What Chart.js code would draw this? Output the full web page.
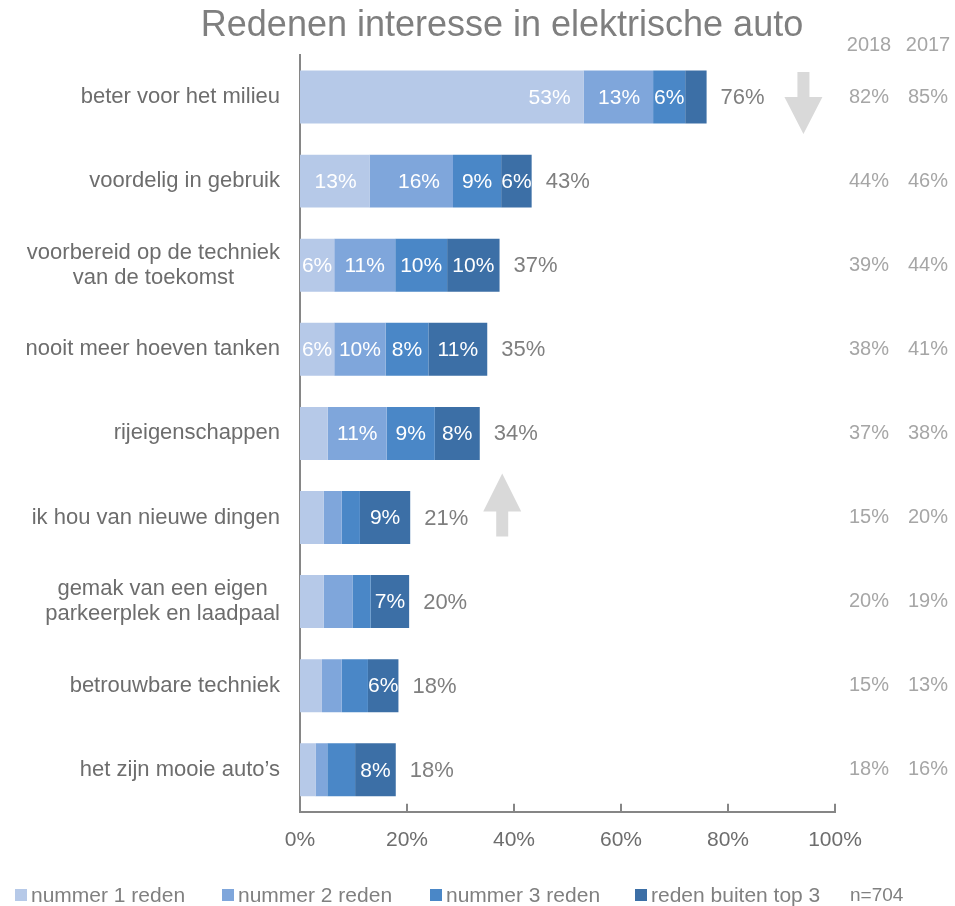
<!DOCTYPE html>
<html lang="nl">
<head>
  <meta charset="UTF-8">
  <title>Redenen interesse in elektrische auto</title>
  <script src="https://cdn.jsdelivr.net/npm/chart.js"></script>
  <style>
    body {
      margin: 0;
      background: #fff;
      font-family: "Liberation Sans", Arial, sans-serif;
    }
    .wrap {
      width: 955px;
      height: 906px;
      position: relative;
    }
  </style>
</head>
<body>
  <div class="wrap">
    <canvas id="redenenChart"></canvas>
  </div>

  <script>
    // data (percentages)
    const categories = [
      ['beter voor het milieu'],
      ['voordelig in gebruik'],
      ['voorbereid op de techniek', 'van de toekomst'],
      ['nooit meer hoeven tanken'],
      ['rijeigenschappen'],
      ['ik hou van nieuwe dingen'],
      ['gemak van een eigen', 'parkeerplek en laadpaal'],
      ['betrouwbare techniek'],
      ['het zijn mooie auto\u2019s']
    ];
    const seriesNames = ['nummer 1 reden', 'nummer 2 reden', 'nummer 3 reden', 'reden buiten top 3'];
    const nummer1 = [53, 13, 6.4, 6.4, 5.2, 4.4, 4.4, 4.1, 2.9];
    const nummer2 = [13, 15.6, 11.4, 9.6, 11, 3.4, 5.4, 3.7, 2.2];
    const nummer3 = [6, 9, 9.7, 8, 9, 3.4, 3.4, 4.9, 5.2];
    const buitenTop3 = [4, 5.7, 9.8, 11, 8.4, 9.4, 7.2, 5.7, 7.6];
    const totals = [76, 43, 37, 35, 34, 21, 20, 18, 18];
    const years = ['2018', '2017'];
    const score2018 = [82, 44, 39, 38, 37, 15, 20, 15, 18];
    const score2017 = [85, 46, 44, 41, 38, 20, 19, 13, 16];
    const xTicks = [0, 20, 40, 60, 80, 100];

    const colors = ['#b6c9e8', '#7fa6db', '#4a87c7', '#3c6fa6'];
    const FONT = '"Liberation Sans", Arial, sans-serif';
    const axisGrey = '#868686';

    function font(size) {
      return size + 'px ' + FONT;
    }

    // everything that Chart.js does not draw by itself
    const extras = {
      id: 'extras',
      afterDraw(chart) {
        const ctx = chart.ctx;
        const area = chart.chartArea;
        const xs = chart.scales.x;
        const ys = chart.scales.y;
        ctx.save();

        // title
        ctx.fillStyle = '#7f7f7f';
        ctx.font = font(36);
        ctx.textAlign = 'center';
        ctx.textBaseline = 'alphabetic';
        ctx.fillText('Redenen interesse in elektrische auto', 502, 36);

        // inward tick marks on the x axis
        ctx.strokeStyle = axisGrey;
        ctx.lineWidth = 2;
        xTicks.forEach(v => {
          if (v === 0) return;
          const px = Math.round(xs.getPixelForValue(v));
          ctx.beginPath();
          ctx.moveTo(px, area.bottom);
          ctx.lineTo(px, area.bottom - 8);
          ctx.stroke();
        });

        // category labels: block right aligned, lines centred in the block
        ctx.fillStyle = '#6d6d6d';
        ctx.font = font(22);
        ctx.textBaseline = 'middle';
        ctx.textAlign = 'center';
        categories.forEach((lines, i) => {
          const cy = ys.getPixelForValue(i);
          const w = Math.max(...lines.map(l => ctx.measureText(l).width));
          const cx = area.left - 20 - w / 2;
          const lh = 25;
          lines.forEach((l, k) => {
            ctx.fillText(l, cx, cy + (k - (lines.length - 1) / 2) * lh);
          });
        });

        // value labels inside the segments
        ctx.font = font(21);
        ctx.fillStyle = '#ffffff';
        ctx.textAlign = 'right';
        chart.data.datasets.forEach((ds, d) => {
          const meta = chart.getDatasetMeta(d);
          meta.data.forEach((bar, i) => {
            const v = ds.data[i];
            if (v < 5.5) return;
            const txt = Math.round(v) + '%';
            const tw = ctx.measureText(txt).width;
            const segW = bar.x - bar.base;
            const pad = Math.max(0, Math.min(13, (segW - tw) / 2));
            ctx.fillText(txt, bar.x - pad, bar.y + 1);
          });
        });

        // totals after the bars
        const lastMeta = chart.getDatasetMeta(chart.data.datasets.length - 1);
        ctx.fillStyle = '#7f7f7f';
        ctx.font = font(22);
        ctx.textAlign = 'left';
        lastMeta.data.forEach((bar, i) => {
          ctx.fillText(totals[i] + '%', bar.x + 14, bar.y + 1);
        });

        // comparison columns 2018 / 2017
        ctx.fillStyle = '#a6a6a6';
        ctx.font = font(20);
        ctx.textAlign = 'center';
        const col1 = area.right + 34;
        const col2 = area.right + 93;
        ctx.fillText(years[0], col1, area.top - 10);
        ctx.fillText(years[1], col2, area.top - 10);
        categories.forEach((c, i) => {
          const cy = ys.getPixelForValue(i);
          ctx.fillText(score2018[i] + '%', col1, cy);
          ctx.fillText(score2017[i] + '%', col2, cy);
        });

        // arrows
        ctx.fillStyle = '#d9d9d9';
        function arrow(cx, tipY, baseY, headY) {
          // head between tipY and headY, shaft between headY and baseY
          ctx.beginPath();
          ctx.moveTo(cx, tipY);
          ctx.lineTo(cx + 19, headY);
          ctx.lineTo(cx + 6, headY);
          ctx.lineTo(cx + 6, baseY);
          ctx.lineTo(cx - 6, baseY);
          ctx.lineTo(cx - 6, headY);
          ctx.lineTo(cx - 19, headY);
          ctx.closePath();
          ctx.fill();
        }
        const r0 = ys.getPixelForValue(0);
        arrow(xs.getPixelForValue(94.1), r0 + 37, r0 - 25, r0 + 0);
        const r5 = ys.getPixelForValue(5);
        arrow(xs.getPixelForValue(37.8), r5 - 44, r5 + 19, r5 - 6);

        // legend
        const legendY = 895;
        const starts = [15, 222, 430, 635];
        ctx.font = font(21);
        ctx.textAlign = 'left';
        seriesNames.forEach((name, k) => {
          ctx.fillStyle = colors[k];
          ctx.fillRect(starts[k], legendY - 6, 12, 12);
          ctx.fillStyle = '#808080';
          ctx.fillText(name, starts[k] + 16, legendY + 1);
        });
        ctx.font = font(19);
        ctx.fillText('n=704', 850, legendY + 1);

        ctx.restore();
      }
    };

    const seriesData = [nummer1, nummer2, nummer3, buitenTop3];

    new Chart(document.getElementById('redenenChart'), {
      type: 'bar',
      data: {
        labels: categories,
        datasets: seriesData.map((arr, k) => ({
          label: seriesNames[k],
          data: arr,
          backgroundColor: colors[k],
          borderWidth: 0,
          categoryPercentage: 1,
          barPercentage: 0.63
        }))
      },
      options: {
        indexAxis: 'y',
        responsive: true,
        maintainAspectRatio: false,
        animation: false,
        layout: {
          padding: { left: 292, right: 120, top: 55, bottom: 45 }
        },
        plugins: {
          legend: { display: false },
          title: { display: false },
          tooltip: { enabled: false }
        },
        scales: {
          x: {
            stacked: true,
            min: 0,
            max: 100,
            afterBuildTicks(scale) {
              scale.ticks = xTicks.map(v => ({ value: v }));
            },
            grid: { display: false },
            border: { display: true, color: axisGrey, width: 2 },
            ticks: {
              color: '#6d6d6d',
              font: { family: FONT, size: 21 },
              padding: 8,
              maxRotation: 0,
              callback: v => v + '%'
            }
          },
          y: {
            stacked: true,
            grid: { display: false },
            border: { display: true, color: axisGrey, width: 2 },
            ticks: { display: false }
          }
        }
      },
      plugins: [extras]
    });
  </script>
</body>
</html>
